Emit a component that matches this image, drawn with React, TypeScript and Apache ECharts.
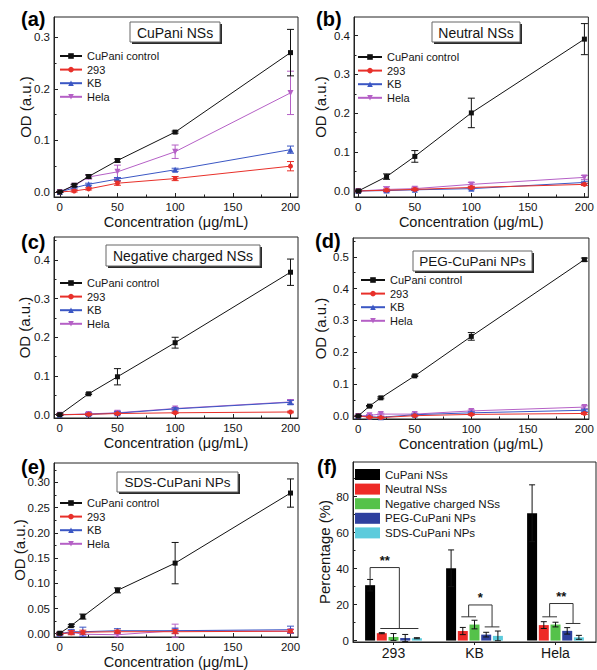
import React, { useEffect, useRef } from "react";
import * as echarts from "echarts";

// ---------- Data ----------
const cellNames = ["CuPani control", "293", "KB", "Hela"];

// (a) CuPani NSs
const concA = [0, 12.5, 25, 50, 100, 200];
const aControl = [0, 0.013, 0.030, 0.061, 0.116, 0.270];
const aControlErr = [0.001, 0.002, 0.003, 0.003, 0.002, 0.045];
const a293 = [0, 0.002, 0.006, 0.017, 0.026, 0.050];
const a293Err = [0.001, 0.002, 0.002, 0.004, 0.004, 0.009];
const aKB = [0, 0.008, 0.015, 0.025, 0.043, 0.082];
const aKBErr = [0.001, 0.002, 0.002, 0.003, 0.003, 0.007];
const aHela = [0, 0.012, 0.029, 0.039, 0.078, 0.192];
const aHelaErr = [0.001, 0.002, 0.004, 0.013, 0.013, 0.042];

// (b) Neutral NSs
const concB = [0, 25, 50, 100, 200];
const bControl = [0, 0.037, 0.089, 0.201, 0.391];
const bControlErr = [0.002, 0.007, 0.015, 0.038, 0.040];
const b293 = [0, 0.002, 0.004, 0.009, 0.017];
const b293Err = [0.002, 0.003, 0.003, 0.003, 0.003];
const bKB = [0, 0.001, 0.003, 0.006, 0.022];
const bKBErr = [0.002, 0.002, 0.002, 0.003, 0.003];
const bHela = [0, 0.004, 0.006, 0.017, 0.035];
const bHelaErr = [0.002, 0.007, 0.004, 0.005, 0.005];

// (c) Negative charged NSs
const concC = [0, 25, 50, 100, 200];
const cControl = [0, 0.054, 0.098, 0.186, 0.368];
const cControlErr = [0.002, 0.002, 0.021, 0.014, 0.034];
const c293 = [0, 0.001, 0.003, 0.005, 0.007];
const c293Err = [0.002, 0.002, 0.002, 0.002, 0.002];
const cKB = [0, 0.001, 0.004, 0.015, 0.032];
const cKBErr = [0.002, 0.003, 0.004, 0.003, 0.005];
const cHela = [0, 0.002, 0.005, 0.016, 0.033];
const cHelaErr = [0.002, 0.004, 0.005, 0.003, 0.006];

// (d) PEG-CuPani NPs
const concD = [0, 10, 20, 50, 100, 200];
const dControl = [0, 0.031, 0.057, 0.126, 0.250, 0.491];
const dControlErr = [0.002, 0.002, 0.003, 0.002, 0.012, 0.005];
const d293 = [0, -0.004, -0.005, 0.001, 0.005, 0.008];
const d293Err = [0.002, 0.002, 0.002, 0.002, 0.002, 0.003];
const dKB = [0, -0.002, -0.004, 0.004, 0.010, 0.018];
const dKBErr = [0.002, 0.002, 0.002, 0.002, 0.003, 0.003];
const dHela = [0, 0.002, 0.006, 0.006, 0.016, 0.028];
const dHelaErr = [0.002, 0.003, 0.003, 0.003, 0.003, 0.004];

// (e) SDS-CuPani NPs
const concE = [0, 10, 20, 50, 100, 200];
const eControl = [0.001, 0.016, 0.034, 0.086, 0.140, 0.279];
const eControlErr = [0.002, 0.002, 0.005, 0.005, 0.041, 0.028];
const e293 = [0, 0.002, 0.003, 0.004, 0.004, 0.005];
const e293Err = [0.002, 0.004, 0.004, 0.003, 0.004, 0.003];
const eKB = [0, 0.004, 0.004, 0.006, 0.006, 0.008];
const eKBErr = [0.002, 0.004, 0.009, 0.004, 0.005, 0.007];
const eHela = [-0.001, 0.003, -0.001, -0.002, 0.006, 0.005];
const eHelaErr = [0.002, 0.003, 0.004, 0.004, 0.013, 0.004];

// (f) Percentage bars
const cellLines = ["293", "KB", "Hela"];
const materialNames = ["CuPani NSs", "Neutral NSs", "Negative charged NSs", "PEG-CuPani NPs", "SDS-CuPani NPs"];
const fCuPani = [30.8, 40.2, 70.8];
const fCuPaniErr = [3.2, 10.2, 15.8];
const fNeutral = [4.1, 5.3, 8.6];
const fNeutralErr = [0.3, 2.0, 1.9];
const fNegative = [2.0, 8.9, 8.9];
const fNegativeErr = [1.9, 2.4, 1.3];
const fPEG = [1.4, 3.3, 5.4];
const fPEGErr = [2.0, 1.3, 1.8];
const fSDS = [1.3, 2.6, 1.8];
const fSDSErr = [0.3, 2.7, 1.1];
// significance brackets: [category, leftFromBar, leftToBar, leftY, rightFromBar, rightToBar, rightY, topY]
const fBrackets = [
  [0, 0, 0, 34.3, 1, 4, 6.7, 40.6],
  [1, 1, 2, 13.2, 3, 4, 7.6, 19.8],
  [2, 1, 2, 13.2, 3, 4, 9.5, 20.6],
];
const fBracketLabels = ["**", "*", "**"];

// Tick labels
const xTicks = [0, 50, 100, 150, 200];
const xMinorTicks = [25, 75, 125, 175];
const yTicksA = [0, 0.1, 0.2, 0.3];
const yMinorA = [0.05, 0.15, 0.25];
const yTicksB = [0, 0.1, 0.2, 0.3, 0.4];
const yMinorB = [0.05, 0.15, 0.25, 0.35];
const yTicksC = [0, 0.1, 0.2, 0.3, 0.4];
const yMinorC = [0.05, 0.15, 0.25, 0.35, 0.45];
const yTicksD = [0, 0.1, 0.2, 0.3, 0.4, 0.5];
const yMinorD = [0.05, 0.15, 0.25, 0.35, 0.45, 0.55];
const yTicksE = [0, 0.05, 0.1, 0.15, 0.2, 0.25, 0.3];
const yMinorE = [0.025, 0.075, 0.125, 0.175, 0.225, 0.275, 0.325];
const yTicksF = [0, 20, 40, 60, 80];
const yMinorF = [10, 30, 50, 70, 90];

// ---------- Styling / layout ----------
const FONT = "'Liberation Sans', Arial, Helvetica, sans-serif";
const INK = "#151515";
const LINE_COLORS = ["#111111", "#e8302a", "#3b57c4", "#b560c6"];
const SYMBOLS = ["rect", "circle", "triangle", "triangle"];
const SYMBOL_ROTATE = [0, 0, 0, 180];
const SYMBOL_SIZE = [5, 5, 6, 6];
const BAR_COLORS = ["#000000", "#ee2a27", "#55c24a", "#2e409e", "#5ccbdc"];
const BAR_WIDTH = 10;
const BAR_STEP = 11.7;

const panels = [
  {
    label: "(a)", title: "CuPani NSs", conc: concA,
    vals: [aControl, a293, aKB, aHela], errs: [aControlErr, a293Err, aKBErr, aHelaErr],
    yTicks: yTicksA, yMinor: yMinorA, yDec: 1,
    left: 54, top: 17, width: 244, height: 180, xMin: -5, xMax: 206.5, yMin: -0.0097, yMax: 0.339,
    yNameGap: 21, box: [130, 22, 90, 20], boxFont: 14, legend: [59, 49.5, 22], labelPos: [21, 19],
  },
  {
    label: "(b)", title: "Neutral NSs", conc: concB,
    vals: [bControl, b293, bKB, bHela], errs: [bControlErr, b293Err, bKBErr, bHelaErr],
    yTicks: yTicksB, yMinor: yMinorB, yDec: 1,
    left: 354, top: 17, width: 240, height: 180, xMin: -3.8, xMax: 203.5, yMin: -0.0155, yMax: 0.448,
    yNameGap: 26, box: [432, 22, 88, 20], boxFont: 14, legend: [357, 50.5, 24], labelPos: [316, 19],
  },
  {
    label: "(c)", title: "Negative charged NSs", conc: concC,
    vals: [cControl, c293, cKB, cHela], errs: [cControlErr, c293Err, cKBErr, cHelaErr],
    yTicks: yTicksC, yMinor: yMinorC, yDec: 1,
    left: 54, top: 237, width: 244, height: 181, xMin: -5, xMax: 206.5, yMin: -0.0085, yMax: 0.459,
    yNameGap: 22, box: [106, 245, 154, 21], boxFont: 14, legend: [59, 276.5, 22], labelPos: [21, 242],
  },
  {
    label: "(d)", title: "PEG-CuPani NPs", conc: concD,
    vals: [dControl, d293, dKB, dHela], errs: [dControlErr, d293Err, dKBErr, dHelaErr],
    yTicks: yTicksD, yMinor: yMinorD, yDec: 1,
    left: 353, top: 238, width: 241, height: 181, xMin: -4.6, xMax: 204, yMin: -0.0094, yMax: 0.559,
    yNameGap: 25, box: [413, 251, 119, 20], boxFont: 13.5, legend: [360, 273.5, 24], labelPos: [315, 241],
  },
  {
    label: "(e)", title: "SDS-CuPani NPs", conc: concE,
    vals: [eControl, e293, eKB, eHela], errs: [eControlErr, e293Err, eKBErr, eHelaErr],
    yTicks: yTicksE, yMinor: yMinorE, yDec: 2,
    left: 54, top: 463, width: 244, height: 176, xMin: -5, xMax: 206.5, yMin: -0.0065, yMax: 0.3386,
    yNameGap: 27, box: [117, 472, 121, 20], boxFont: 13.5, legend: [59, 496.5, 22], labelPos: [21, 467],
  },
];

const fLayout = { left: 353, top: 462, width: 243, height: 180, yMin: -0.8, yMax: 99.3, labelPos: [317, 467] };

function errRenderer(color: string, offset: number, cap: number) {
  return (params: any, api: any) => {
    const x = api.value(0);
    const lo = api.coord([x, api.value(1)]);
    const hi = api.coord([x, api.value(2)]);
    const cx = lo[0] + offset;
    const st = { stroke: color, lineWidth: 1 };
    return {
      type: "group",
      children: [
        { type: "line", shape: { x1: cx, y1: lo[1], x2: cx, y2: hi[1] }, style: st },
        { type: "line", shape: { x1: cx - cap, y1: lo[1], x2: cx + cap, y2: lo[1] }, style: st },
        { type: "line", shape: { x1: cx - cap, y1: hi[1], x2: cx + cap, y2: hi[1] }, style: st },
      ],
    };
  };
}

function axisBase(extra: any) {
  return {
    splitLine: { show: false },
    nameMoveOverlap: false,
    axisLine: { show: true, onZero: false, lineStyle: { color: "#222", width: 1 } },
    ...extra,
  };
}

function buildOption() {
  const grid: any[] = [];
  const xAxis: any[] = [];
  const yAxis: any[] = [];
  const series: any[] = [];
  const legend: any[] = [];
  const graphic: any[] = [];

  panels.forEach((p, gi) => {
    grid.push({
      left: p.left, top: p.top, width: p.width, height: p.height,
      show: true, borderColor: "#222", borderWidth: 1, backgroundColor: "transparent",
    });
    const xi = xAxis.length;
    xAxis.push(axisBase({
      gridIndex: gi, type: "value", position: "bottom", min: p.xMin, max: p.xMax,
      name: "Concentration (μg/mL)", nameLocation: "middle", nameGap: 17,
      nameTextStyle: { fontSize: 14.5, lineHeight: 15, color: INK, fontFamily: FONT },
      axisTick: { show: true, inside: true, length: 4, customValues: xTicks, lineStyle: { color: "#222" } },
      axisLabel: { customValues: xTicks, fontSize: 11.5, lineHeight: 12, color: INK, margin: 4, fontFamily: FONT },
    }));
    xAxis.push({
      gridIndex: gi, type: "value", position: "bottom", min: p.xMin, max: p.xMax,
      axisLine: { show: false, onZero: false }, splitLine: { show: false }, axisLabel: { show: false },
      axisTick: { show: true, inside: true, length: 2.5, customValues: xMinorTicks, lineStyle: { color: "#222" } },
    });
    const yi = yAxis.length;
    yAxis.push(axisBase({
      gridIndex: gi, type: "value", position: "left", min: p.yMin, max: p.yMax,
      name: "OD (a.u.)", nameLocation: "middle", nameGap: p.yNameGap,
      nameTextStyle: { fontSize: 15, color: INK, fontFamily: FONT },
      axisTick: { show: true, inside: true, length: 4, customValues: p.yTicks, lineStyle: { color: "#222" } },
      axisLabel: {
        customValues: p.yTicks, fontSize: 11.5, color: INK, margin: 4, fontFamily: FONT,
        formatter: (v: number) => Number(v).toFixed(p.yDec),
      },
    }));
    yAxis.push({
      gridIndex: gi, type: "value", position: "left", min: p.yMin, max: p.yMax,
      axisLine: { show: false, onZero: false }, splitLine: { show: false }, axisLabel: { show: false },
      axisTick: { show: true, inside: true, length: 2.5, customValues: p.yMinor, lineStyle: { color: "#222" } },
    });

    for (let s = 0; s < 4; s++) {
      const color = LINE_COLORS[s];
      const z = 10 - s;
      series.push({
        type: "custom", name: `err-${p.label}-${s}`, xAxisIndex: xi, yAxisIndex: yi,
        data: p.conc.map((c, k) => [c, p.vals[s][k] - p.errs[s][k], p.vals[s][k] + p.errs[s][k]]),
        encode: { x: 0, y: [1, 2] }, renderItem: errRenderer(color, 0, 3.5), z, silent: true,
      });
      series.push({
        type: "line", name: cellNames[s], xAxisIndex: xi, yAxisIndex: yi,
        data: p.conc.map((c, k) => [c, p.vals[s][k]]),
        symbol: SYMBOLS[s], symbolSize: SYMBOL_SIZE[s], symbolRotate: SYMBOL_ROTATE[s],
        showAllSymbol: true, lineStyle: { color, width: 1 }, itemStyle: { color }, z, silent: true,
      });
    }

    legend.push({
      data: cellNames, orient: "vertical", left: p.legend[0], top: p.legend[1],
      itemWidth: p.legend[2], itemHeight: 7, itemGap: 0.6, selectedMode: false, padding: 0,
      textStyle: { fontSize: 11, lineHeight: 13, color: INK, fontFamily: FONT },
    });

    const [bx, by, bw, bh] = p.box;
    graphic.push({
      type: "group", x: bx, y: by, children: [
        { type: "rect", shape: { x: 2, y: 2, width: bw, height: bh }, style: { fill: "#2a2a2a" } },
        { type: "rect", shape: { x: 0, y: 0, width: bw, height: bh }, style: { fill: "#ffffff", stroke: "#666", lineWidth: 1 } },
        {
          type: "text", x: bw / 2, y: bh / 2 + 0.5,
          style: {
            text: p.title, fontSize: p.boxFont, fill: INK, fontFamily: FONT,
            align: "center", verticalAlign: "middle", textAlign: "center", textVerticalAlign: "middle",
          },
        },
      ],
    });
    graphic.push({
      type: "text", x: p.labelPos[0], y: p.labelPos[1],
      style: {
        text: p.label, fontSize: 20, fontWeight: "bold", fill: "#000", fontFamily: FONT,
        align: "left", verticalAlign: "middle", textAlign: "left", textVerticalAlign: "middle",
      },
    });
  });

  // ---- Panel (f) ----
  const fg = grid.length;
  grid.push({
    left: fLayout.left, top: fLayout.top, width: fLayout.width, height: fLayout.height,
    show: true, borderColor: "#222", borderWidth: 1, backgroundColor: "transparent",
  });
  const fx = xAxis.length;
  xAxis.push(axisBase({
    gridIndex: fg, type: "category", data: cellLines, position: "bottom",
    axisTick: { show: true, alignWithLabel: true, inside: false, length: 3, lineStyle: { color: "#222" } },
    axisLabel: { fontSize: 14, color: INK, margin: 4, fontFamily: FONT },
  }));
  const fy = yAxis.length;
  yAxis.push(axisBase({
    gridIndex: fg, type: "value", position: "left", min: fLayout.yMin, max: fLayout.yMax,
    name: "Percentage (%)", nameLocation: "middle", nameGap: 21,
    nameTextStyle: { fontSize: 15, color: INK, fontFamily: FONT },
    axisTick: { show: true, inside: true, length: 4, customValues: yTicksF, lineStyle: { color: "#222" } },
    axisLabel: { customValues: yTicksF, fontSize: 11.5, color: INK, margin: 4, fontFamily: FONT },
  }));
  yAxis.push({
    gridIndex: fg, type: "value", position: "left", min: fLayout.yMin, max: fLayout.yMax,
    axisLine: { show: false, onZero: false }, splitLine: { show: false }, axisLabel: { show: false },
    axisTick: { show: true, inside: true, length: 2.5, customValues: yMinorF, lineStyle: { color: "#222" } },
  });

  const barVals = [fCuPani, fNeutral, fNegative, fPEG, fSDS];
  const barErrs = [fCuPaniErr, fNeutralErr, fNegativeErr, fPEGErr, fSDSErr];
  barVals.forEach((vals, s) => {
    series.push({
      type: "bar", name: materialNames[s], xAxisIndex: fx, yAxisIndex: fy, data: vals,
      barWidth: BAR_WIDTH, barGap: "17%", itemStyle: { color: BAR_COLORS[s] }, silent: true, z: 2,
    });
  });
  barVals.forEach((vals, s) => {
    series.push({
      type: "custom", name: `barerr-${s}`, xAxisIndex: fx, yAxisIndex: fy,
      data: vals.map((v, k) => [k, v - barErrs[s][k], v + barErrs[s][k]]),
      encode: { x: 0, y: [1, 2] }, renderItem: errRenderer("#111", (s - 2) * BAR_STEP, 3), z: 5, silent: true,
    });
  });
  series.push({
    type: "custom", name: "brackets", xAxisIndex: fx, yAxisIndex: fy, data: fBrackets,
    encode: { x: 0, y: [3, 6, 7] }, z: 6, silent: true,
    renderItem: (params: any, api: any) => {
      const cat = api.value(0);
      const center = api.coord([cat, 0])[0];
      const xOf = (b: number) => center + (b - 2) * BAR_STEP;
      const lf = api.value(1), lt = api.value(2), rf = api.value(4), rt = api.value(5);
      const lx = (xOf(lf) + xOf(lt)) / 2;
      const rx = (xOf(rf) + xOf(rt)) / 2;
      const lhw = lt > lf ? (xOf(lt) - xOf(lf)) / 2 + 1.5 : 0;
      const rhw = rt > rf ? (xOf(rt) - xOf(rf)) / 2 + 1.5 : 0;
      const ly = api.coord([cat, api.value(3)])[1];
      const ry = api.coord([cat, api.value(6)])[1];
      const ty = api.coord([cat, api.value(7)])[1];
      const st = { stroke: "#333", lineWidth: 1 };
      const children: any[] = [
        { type: "line", shape: { x1: lx, y1: ly, x2: lx, y2: ty }, style: st },
        { type: "line", shape: { x1: lx, y1: ty, x2: rx, y2: ty }, style: st },
        { type: "line", shape: { x1: rx, y1: ty, x2: rx, y2: ry }, style: st },
        {
          type: "text", x: (lx + rx) / 2, y: ty - 1,
          style: {
            text: fBracketLabels[params.dataIndex], fontSize: 13, fontWeight: "bold", fill: "#111", fontFamily: FONT,
            align: "center", verticalAlign: "bottom", textAlign: "center", textVerticalAlign: "bottom",
          },
        },
      ];
      if (lhw > 0) children.push({ type: "line", shape: { x1: lx - lhw, y1: ly, x2: lx + lhw, y2: ly }, style: st });
      if (rhw > 0) children.push({ type: "line", shape: { x1: rx - rhw, y1: ry, x2: rx + rhw, y2: ry }, style: st });
      return { type: "group", children };
    },
  });

  legend.push({
    data: materialNames, orient: "vertical", left: 355, top: 468.5, icon: "rect",
    itemWidth: 25, itemHeight: 11, itemGap: 2.6, selectedMode: false, padding: 0,
    textStyle: { fontSize: 11.5, lineHeight: 11, color: INK, fontFamily: FONT },
  });
  graphic.push({
    type: "text", x: fLayout.labelPos[0], y: fLayout.labelPos[1],
    style: {
      text: "(f)", fontSize: 20, fontWeight: "bold", fill: "#000", fontFamily: FONT,
      align: "left", verticalAlign: "middle", textAlign: "left", textVerticalAlign: "middle",
    },
  });

  return {
    animation: false,
    backgroundColor: "#ffffff",
    textStyle: { fontFamily: FONT },
    grid, xAxis, yAxis, series, legend, graphic,
  };
}

export default function App() {
  const ref = useRef<HTMLDivElement>(null);
  useEffect(() => {
    if (!ref.current) return;
    const chart = echarts.init(ref.current, null, { renderer: "svg" });
    chart.setOption(buildOption() as any);
    return () => chart.dispose();
  }, []);
  return (
    <div
      ref={ref}
      style={{ position: "fixed", left: 0, top: 0, width: 597, height: 670, background: "#fff" }}
    />
  );
}
